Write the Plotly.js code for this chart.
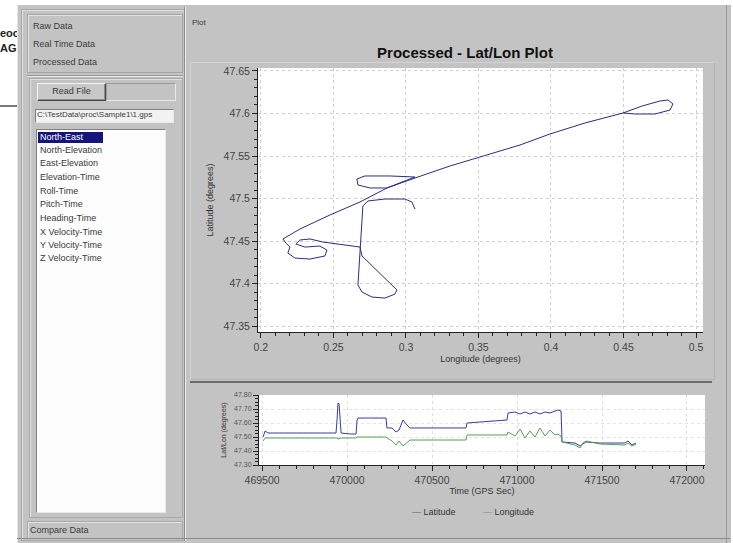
<!DOCTYPE html>
<html>
<head>
<meta charset="utf-8">
<script src="https://cdn.plot.ly/plotly-3.0.1.min.js"></script>
<style>
  html, body { margin:0; padding:0; width:733px; height:543px; overflow:hidden; background:#ffffff; font-family:"Liberation Sans", Arial, sans-serif; }
  .abs { position:absolute; }
  .ui { position:absolute; font-size:9px; color:#3a3a3a; white-space:nowrap; }
  .item { position:absolute; left:3px; font-size:9px; color:#3a3a3a; white-space:nowrap; line-height:11px; }
  #plot { position:absolute; left:0; top:0; width:733px; height:543px; z-index:5; }
</style>
</head>
<body>
<!-- page behind the window -->
<div class="abs" style="left:0px;top:27px;font-size:11px;font-weight:bold;color:#222;">eoc</div>
<div class="abs" style="left:0px;top:42px;font-size:11px;font-weight:bold;color:#222;">AG</div>
<div class="abs" style="left:0;top:105px;width:17px;height:2px;background:#777;"></div>

<!-- application window -->
<div class="abs" style="left:17px;top:5px;width:713px;height:538px;background:#c3c3c3;border-left:1px solid #e6e6e6;"></div>
<div class="abs" style="left:21px;top:9px;width:162px;height:530px;border:1px solid #a8a8a8;box-shadow:inset 1px 1px 0 #e0e0e0;"></div>

<!-- left panel: data selection -->
<div class="abs" style="left:27px;top:14px;width:154px;height:57px;border:1px solid #a6a6a6;box-shadow:inset 1px 1px 0 #e2e2e2;"></div>
<div class="ui" style="left:33px;top:21px;">Raw Data</div>
<div class="ui" style="left:33px;top:39px;">Real Time Data</div>
<div class="ui" style="left:33px;top:57px;">Processed Data</div>
<div class="abs" style="left:27px;top:75px;width:156px;height:1px;background:#999;box-shadow:0 1px 0 #e4e4e4;"></div>
<div class="abs" style="left:29px;top:78px;width:152px;height:438px;border:1px solid #a8a8a8;box-shadow:inset 1px 1px 0 #e0e0e0;"></div>

<div class="abs" style="left:37px;top:83px;width:67px;height:16px;background:#c8c8c8;border:1px solid;border-color:#f4f4f4 #4a4a4a #4a4a4a #f4f4f4;box-shadow:inset -1px -1px 0 #8a8a8a;"></div>
<div class="ui" style="left:37px;top:86px;width:69px;text-align:center;">Read File</div>
<div class="abs" style="left:106px;top:83px;width:68px;height:16px;border:1px solid #aaa;border-color:#9a9a9a #e8e8e8 #e8e8e8 #9a9a9a;"></div>

<div class="abs" style="left:35px;top:109px;width:137px;height:12px;background:#f2f2f2;border:1px solid;border-color:#808080 #e8e8e8 #e8e8e8 #808080;"></div>
<div class="ui" style="left:37px;top:110px;font-size:8px;">C:\TestData\proc\Sample1\1.gps</div>

<div class="abs" style="left:36px;top:129px;width:128px;height:382px;background:#fdfdfd;border:1px solid;border-color:#808080 #e8e8e8 #e8e8e8 #808080;">
  <div class="abs" style="left:1px;top:2px;width:65px;height:11px;background:#14147a;"></div>
  <div class="item" style="top:2px;color:#ffffff;">North-East</div>
  <div class="item" style="top:15px;">North-Elevation</div>
  <div class="item" style="top:28px;">East-Elevation</div>
  <div class="item" style="top:42px;">Elevation-Time</div>
  <div class="item" style="top:56px;">Roll-Time</div>
  <div class="item" style="top:69px;">Pitch-Time</div>
  <div class="item" style="top:83px;">Heading-Time</div>
  <div class="item" style="top:97px;">X Velocity-Time</div>
  <div class="item" style="top:110px;">Y Velocity-Time</div>
  <div class="item" style="top:123px;">Z Velocity-Time</div>
</div>

<div class="abs" style="left:27px;top:521px;width:154px;height:16px;border:1px solid #a8a8a8;box-shadow:inset 1px 1px 0 #e2e2e2;"></div>
<div class="ui" style="left:30px;top:525px;">Compare Data</div>

<!-- divider between panels -->
<div class="abs" style="left:184px;top:7px;width:1px;height:534px;background:#8c8c8c;"></div>
<div class="abs" style="left:185px;top:7px;width:1px;height:534px;background:#ececec;"></div>

<!-- right panel -->
<div class="ui" style="left:192px;top:18px;font-size:8px;">Plot</div>
<div class="abs" style="left:190px;top:62px;width:523px;height:316px;border:1px solid #d2d2d2;border-color:#d4d4d4 #b4b4b4 #b4b4b4 #d4d4d4;"></div>
<div class="abs" style="left:190px;top:381px;width:522px;height:2px;background:#6c6c6c;"></div>
<div class="abs" style="left:17px;top:538px;width:713px;height:1px;background:#8a8a8a;"></div>
<div class="abs" style="left:726px;top:5px;width:1px;height:538px;background:#9a9a9a;"></div>

<div id="plot"></div>

<script>
// ---- Lat/Lon track (degrees) ----
const longitude = [0.3062,0.3041,0.2993,0.2855,0.2738,0.2703,0.2697,0.2690,0.2683,0.2676,0.2669,0.2669,0.2697,0.2766,0.2855,0.2924,0.2938,0.2821,0.2697,0.2683,0.2579,0.2428,0.2338,0.2269,0.2241,0.2303,0.2407,0.2455,0.2441,0.2338,0.2234,0.2186,0.2200,0.2172,0.2152,0.2269,0.2476,0.2683,0.2869,0.3062,0.2890,0.2717,0.2662,0.2669,0.2752,0.2869,0.3062,0.3303,0.3510,0.3786,0.3993,0.4234,0.4497,0.4628,0.4752,0.4807,0.4841,0.4821,0.4717,0.4579,0.4497];
const latitude  = [47.4876,47.4959,47.4994,47.4994,47.4971,47.4912,47.4747,47.4571,47.4429,47.4276,47.4100,47.3982,47.3900,47.3841,47.3829,47.3876,47.3924,47.4124,47.4324,47.4429,47.4453,47.4488,47.4524,47.4512,47.4465,47.4429,47.4441,47.4394,47.4324,47.4288,47.4300,47.4359,47.4429,47.4476,47.4524,47.4641,47.4806,47.4959,47.5124,47.5253,47.5265,47.5265,47.5229,47.5159,47.5124,47.5124,47.5241,47.5382,47.5488,47.5629,47.5759,47.5888,47.6006,47.6088,47.6147,47.6159,47.6112,47.6041,47.5994,47.5994,47.6006];

// ---- Time series (GPS seconds) ----
const gpsTime = [469506,469518,469535,469724,469900,469935,469941,469947,469953,469959,469965,470018,470053,470059,470065,470229,470235,470265,470288,470306,470329,470353,470371,470700,470706,470782,470941,470947,470988,471018,471047,471076,471106,471135,471165,471194,471224,471241,471259,471265,471341,471371,471388,471406,471488,471635,471653,471676,471700];
const latSeries = [0.400,0.486,0.457,0.457,0.457,0.457,0.643,0.886,0.871,0.643,0.457,0.443,0.443,0.643,0.671,0.671,0.529,0.529,0.471,0.500,0.643,0.571,0.529,0.529,0.600,0.614,0.643,0.743,0.757,0.729,0.757,0.729,0.757,0.729,0.757,0.743,0.771,0.786,0.771,0.329,0.314,0.271,0.300,0.329,0.314,0.314,0.343,0.286,0.314];
const lonSeries = [0.343,0.386,0.386,0.386,0.386,0.386,0.386,0.371,0.371,0.386,0.386,0.386,0.386,0.400,0.400,0.400,0.386,0.343,0.286,0.343,0.271,0.314,0.357,0.357,0.429,0.429,0.429,0.471,0.414,0.514,0.386,0.486,0.400,0.529,0.414,0.500,0.429,0.443,0.414,0.329,0.286,0.243,0.314,0.343,0.300,0.286,0.314,0.271,0.300];

// ---- tick labels ----
const lonTicks = [0.2,0.25,0.3,0.35,0.4,0.45,0.5];
const latTicks = [47.35,47.4,47.45,47.5,47.55,47.6,47.65];
const timeTicks = [469500,470000,470500,471000,471500,472000];
const seriesTickVals = [0,0.2,0.4,0.6,0.8,1.0];
const seriesTickText = ['47.30','47.40','47.50','47.60','47.70','47.80'];

const W = 733, H = 543;
const px = v => v / W, py = v => 1 - v / H;
const FONT = 'Liberation Sans, Arial, sans-serif';
const tickFont = {family: FONT, size: 10.5, color: '#444'};

const traces = [
  {x: longitude, y: latitude, xaxis: 'x', yaxis: 'y', mode: 'lines', name: 'Track',
   line: {color: '#2c2c84', width: 1}},
  {x: gpsTime, y: latSeries, xaxis: 'x2', yaxis: 'y2', mode: 'lines', name: 'Latitude',
   line: {color: '#3a3aa8', width: 1}},
  {x: gpsTime, y: lonSeries, xaxis: 'x2', yaxis: 'y2', mode: 'lines', name: 'Longitude',
   line: {color: '#55a055', width: 1}}
];

const axCommon = {
  showline: true, linecolor: '#222', linewidth: 1, mirror: false,
  ticks: 'outside', ticklen: 5, tickcolor: '#222', tickwidth: 1,
  showgrid: true, gridcolor: '#cdcdcd', griddash: 'dot', gridwidth: 1,
  zeroline: false, tickfont: tickFont, fixedrange: true
};

const layout = {
  width: W, height: H,
  margin: {l: 0, r: 0, t: 0, b: 0},
  paper_bgcolor: 'rgba(0,0,0,0)',
  plot_bgcolor: '#ffffff',
  showlegend: false,
  title: {text: '<b>Processed - Lat/Lon Plot</b>', font: {family: FONT, size: 15, color: '#111'},
          x: px(465), xanchor: 'center', xref: 'paper', y: py(53), yanchor: 'middle', yref: 'paper'},
  xaxis: Object.assign({}, axCommon, {
    domain: [px(258), px(703)], anchor: 'y', range: [0.198, 0.5048],
    tickvals: lonTicks, ticktext: lonTicks.map(String),
    minor: {ticks: 'outside', ticklen: 3, dtick: 0.01, tick0: 0.2, tickcolor: '#222', showgrid: false},
    title: {text: 'Longitude (degrees)', font: {family: FONT, size: 9, color: '#333'}, standoff: 4}
  }),
  yaxis: Object.assign({}, axCommon, {
    domain: [py(332), py(68)], anchor: 'x', range: [47.343, 47.6535],
    tickvals: latTicks, ticktext: latTicks.map(String),
    minor: {ticks: 'outside', ticklen: 3, dtick: 0.01, tick0: 47.35, tickcolor: '#222', showgrid: false},
    title: {text: 'Latitude (degrees)', font: {family: FONT, size: 9, color: '#333'}, standoff: 8}
  }),
  xaxis2: Object.assign({}, axCommon, {
    domain: [px(259), px(705)], anchor: 'y2', range: [469482, 472106],
    tickvals: timeTicks, ticktext: timeTicks.map(String), gridcolor: '#dedede',
    minor: {ticks: 'outside', ticklen: 3, dtick: 100, tick0: 469500, tickcolor: '#222', showgrid: false},
    title: {text: 'Time (GPS Sec)', font: {family: FONT, size: 9, color: '#333'}, standoff: 3}
  }),
  yaxis2: Object.assign({}, axCommon, {
    domain: [py(465), py(395)], anchor: 'x2', range: [0, 1.0],
    tickvals: seriesTickVals, ticktext: seriesTickText, gridcolor: '#e2e2e2',
    tickfont: {family: FONT, size: 7, color: '#555'},
    minor: {ticks: 'outside', ticklen: 3, dtick: 0.05, tick0: 0, tickcolor: '#222', showgrid: false},
    title: {text: 'Lat/Lon (degrees)', font: {family: FONT, size: 7, color: '#333'}, standoff: 6}
  }),
  annotations: [
    {xref: 'paper', yref: 'paper', x: px(410), y: py(512), xanchor: 'left', yanchor: 'middle', showarrow: false,
     text: '<span style="color:#5a5aa0">—</span> Latitude', font: {family: FONT, size: 9, color: '#333'}},
    {xref: 'paper', yref: 'paper', x: px(481), y: py(512), xanchor: 'left', yanchor: 'middle', showarrow: false,
     text: '<span style="color:#6a9a6a">—</span> Longitude', font: {family: FONT, size: 9, color: '#333'}}
  ]
};

Plotly.newPlot('plot', traces, layout, {staticPlot: true, displayModeBar: false});
</script>
</body>
</html>
